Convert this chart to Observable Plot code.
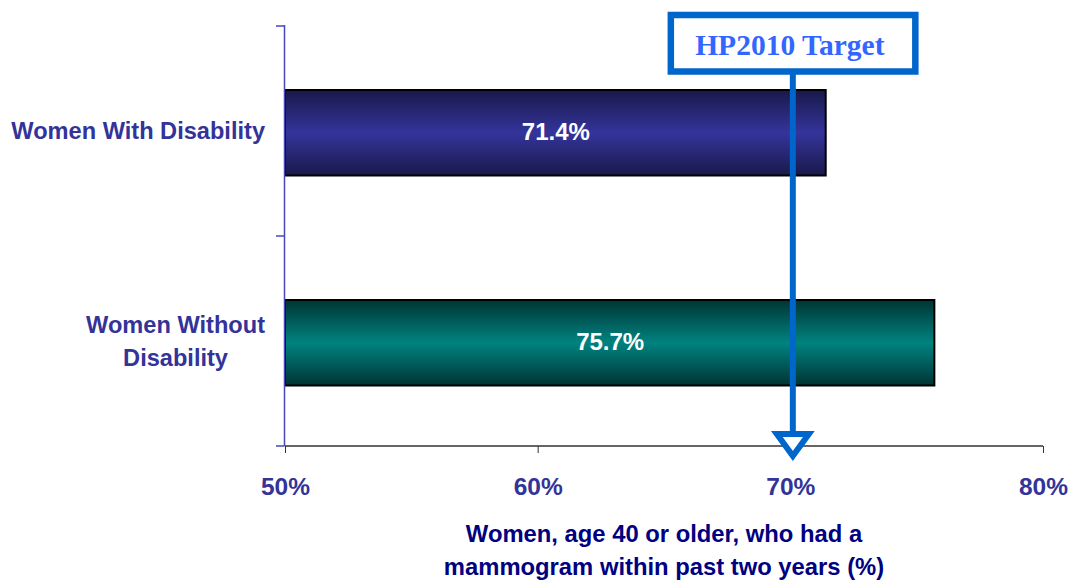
<!DOCTYPE html>
<html><head><meta charset="utf-8">
<script src="https://cdn.jsdelivr.net/npm/d3@7"></script>
<script src="https://cdn.jsdelivr.net/npm/@observablehq/plot@0.6"></script>
<style>body{margin:0;background:#fff} svg{display:block}</style>
</head><body><div id="chart"></div>
<script>
// ---- data ----
const categories = ["Women With Disability", "Women Without Disability"];
const categoryLines = [["Women With Disability"], ["Women Without", "Disability"]];
const values = [71.4, 75.7];
const valueLabels = ["71.4%", "75.7%"];
const xTicks = [50, 60, 70, 80];
const xTickLabels = ["50%", "60%", "70%", "80%"];
const targetValue = 70;
const targetLabel = "HP2010 Target";
const xTitleLines = ["Women, age 40 or older, who had a", "mammogram within past two years (%)"];

const data = categories.map((c, i) => ({category: c, value: values[i], label: valueLabels[i], lines: categoryLines[i]}));

const SANS = "Arial, 'Liberation Sans', sans-serif";
const SERIF = "'Times New Roman', 'Liberation Serif', serif";

function defs() {
  const g = d3.create("svg:defs");
  const mk = (id, edge, mid) => {
    const lg = g.append("linearGradient").attr("id", id).attr("x1", 0).attr("y1", 0).attr("x2", 0).attr("y2", 1);
    lg.append("stop").attr("offset", "0%").attr("stop-color", edge);
    lg.append("stop").attr("offset", "50%").attr("stop-color", mid);
    lg.append("stop").attr("offset", "100%").attr("stop-color", edge);
  };
  mk("gradPurple", "#19194a", "#34349c");
  mk("gradTeal", "#003434", "#008380");
  return g.node();
}

function measure(text, font) {
  const ctx = document.createElement("canvas").getContext("2d");
  ctx.font = font;
  return ctx.measureText(text).width;
}

function axesOverlay(index, scales, values, dims) {
  const {x, y} = scales;
  const g = d3.create("svg:g");
  const bw = y.bandwidth();
  const top = dims.marginTop, bottom = dims.height - dims.marginBottom;
  const x0 = x(xTicks[0]), x1 = x(xTicks[xTicks.length - 1]);
  // x axis line
  g.append("line").attr("x1", x0).attr("x2", x1).attr("y1", bottom).attr("y2", bottom)
    .attr("stroke", "#333").attr("stroke-width", 1.5);
  // y axis line + ticks at band boundaries
  g.append("line").attr("x1", x0 - 0.5).attr("x2", x0 - 0.5).attr("y1", top).attr("y2", bottom)
    .attr("stroke", "#4848b8").attr("stroke-width", 1.5);
  const bounds = categories.map(c => y(c)).concat([y(categories[categories.length - 1]) + bw]);
  for (const b of bounds) {
    g.append("line").attr("x1", x0 - 9).attr("x2", x0 - 0.5).attr("y1", b).attr("y2", b)
      .attr("stroke", "#4848b8").attr("stroke-width", 1.5);
  }
  // category labels (centered lines, right-aligned block)
  const fs = 23.6;
  const font = `bold ${fs}px ${SANS}`;
  const right = x0 - 20;
  const lh = 33;
  for (const d of data) {
    const w = Math.max(...d.lines.map(l => measure(l, font)));
    const cx = right - w / 2;
    const cy = y(d.category) + bw / 2;
    const t = g.append("text").attr("text-anchor", "middle").attr("fill", "#333399")
      .attr("font-family", SANS).attr("font-weight", "bold").attr("font-size", fs);
    d.lines.forEach((l, i) => {
      t.append("tspan").attr("x", cx).attr("y", cy + (i - (d.lines.length - 1) / 2) * lh).attr("dy", "0.35em").text(l);
    });
  }
  // x title
  const tt = g.append("text").attr("text-anchor", "middle").attr("fill", "#000080")
    .attr("font-family", SANS).attr("font-weight", "bold").attr("font-size", 23.8);
  xTitleLines.forEach((l, i) => {
    tt.append("tspan").attr("x", (x0 + x1) / 2).attr("y", bottom + 96 + i * 32.5).text(l);
  });
  return g.node();
}

function targetOverlay(index, scales, values, dims) {
  const {x} = scales;
  const g = d3.create("svg:g");
  const cx = x(targetValue) + 2.5;
  const bottom = dims.height - dims.marginBottom;
  const blue = "#0066CC";
  // vertical arrow line
  g.append("line").attr("x1", cx).attr("x2", cx).attr("y1", 70).attr("y2", bottom - 12)
    .attr("stroke", blue).attr("stroke-width", 6);
  // arrowhead (outlined triangle)
  g.append("path").attr("d", `M${cx - 16},${bottom - 12}L${cx + 16},${bottom - 12}L${cx},${bottom + 10}Z`)
    .attr("fill", "#fff").attr("stroke", blue).attr("stroke-width", 6).attr("stroke-linejoin", "miter");
  // box
  g.append("rect").attr("x", cx - 122).attr("y", 15).attr("width", 244.5).attr("height", 56.5)
    .attr("fill", "#fff").attr("stroke", blue).attr("stroke-width", 6.5);
  g.append("text").attr("x", cx - 3).attr("y", 55).attr("text-anchor", "middle")
    .attr("font-family", SERIF).attr("font-weight", "bold").attr("font-size", 29.5)
    .attr("fill", "#3366FF").text(targetLabel);
  return g.node();
}

const chart = Plot.plot({
  width: 1073,
  height: 580,
  marginLeft: 285,
  marginRight: 30,
  marginTop: 25,
  marginBottom: 134,
  x: {domain: [xTicks[0], xTicks[xTicks.length - 1]], axis: null},
  y: {domain: categories, padding: 0, axis: null},
  marks: [
    defs,
    Plot.barX(data.slice(0, 1), {y: "category", x1: () => xTicks[0], x2: "value", insetTop: 64, insetBottom: 60.5,
      fill: "url(#gradPurple)", stroke: "#000", strokeWidth: 2}),
    Plot.barX(data.slice(1, 2), {y: "category", x1: () => xTicks[0], x2: "value", insetTop: 64, insetBottom: 60.5,
      fill: "url(#gradTeal)", stroke: "#000", strokeWidth: 2}),
    Plot.text(data, {y: "category", x: d => (xTicks[0] + d.value) / 2, text: "label", dy: 1,
      fill: "#fff", fontSize: 24, fontWeight: "bold", fontFamily: SANS}),
    Plot.axisX(xTicks, {anchor: "bottom", tickSize: 7, tickPadding: 24, stroke: "#333",
      tickFormat: d => xTickLabels[xTicks.indexOf(d)], fill: "#333399", fontSize: 24.5, fontWeight: "bold",
      fontFamily: SANS, label: null}),
    axesOverlay,
    targetOverlay
  ]
});
document.getElementById("chart").appendChild(chart);
</script>
</body></html>
